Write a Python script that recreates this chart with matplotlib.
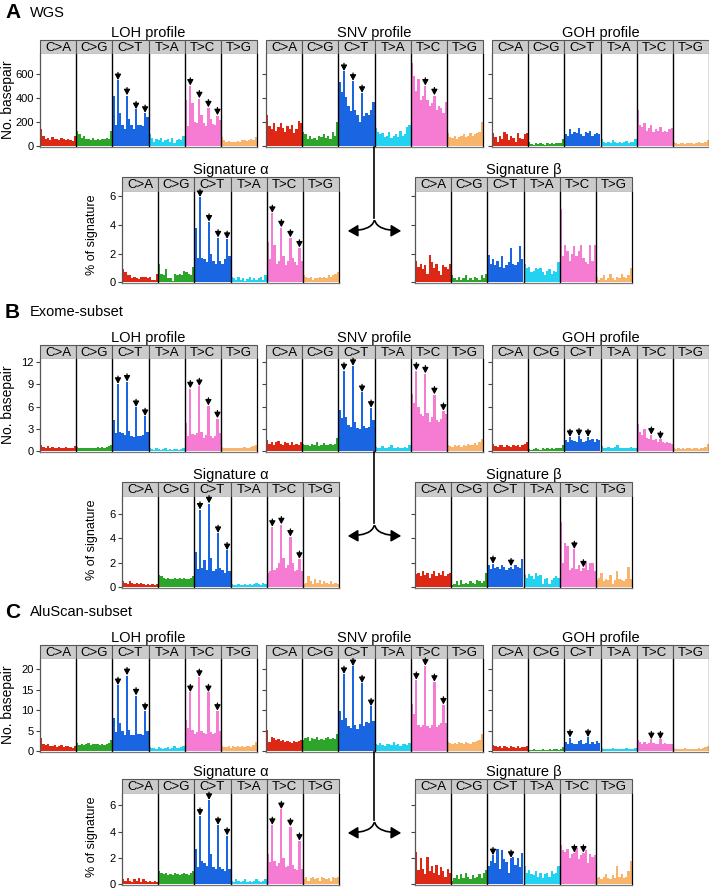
import numpy as np
import matplotlib.pyplot as plt
from matplotlib.patches import Rectangle, FancyArrowPatch
from matplotlib.lines import Line2D

plt.rcParams['font.family'] = ['Liberation Sans', 'DejaVu Sans']

types = ['C>A', 'C>G', 'C>T', 'T>A', 'T>C', 'T>G']
type_colors = ['#DC2814', '#2CA52A', '#1A66E2', '#22D2F0', '#F57BD3', '#F9B46C']

# ---- A: WGS ----
wgs_loh = [140, 90, 60, 70, 55, 75, 60, 60, 55, 70, 65, 50, 60, 55, 45, 85,
           130, 100, 70, 90, 60, 60, 50, 70, 55, 60, 55, 60, 60, 70, 65, 125,
           415, 175, 545, 280, 180, 140, 420, 230, 175, 140, 305, 175, 180, 170, 275, 240,
           100, 70, 40, 60, 50, 70, 40, 50, 60, 40, 70, 30, 50, 60, 50, 85,
           385, 170, 500, 360, 200, 190, 395, 260, 190, 170, 320, 230, 185, 180, 255, 215,
           75, 50, 40, 45, 35, 40, 40, 45, 40, 50, 55, 45, 50, 60, 55, 80]
wgs_snv = [260, 170, 140, 190, 130, 160, 190, 150, 120, 170, 140, 180, 110, 140, 210, 190,
           120, 100, 60, 90, 60, 70, 50, 90, 80, 100, 70, 90, 60, 120, 90, 200,
           530, 450, 620, 410, 330, 290, 540, 300, 260, 200, 440, 250, 280, 260, 300, 370,
           150, 120, 100, 110, 80, 90, 120, 70, 90, 100, 80, 130, 90, 100, 160, 180,
           690, 580, 460, 560, 380, 420, 500, 380, 330, 360, 420, 300, 330, 320, 280, 370,
           110, 80, 70, 90, 60, 80, 90, 100, 80, 90, 110, 90, 100, 110, 120, 200]
wgs_goh = [110, 80, 40, 90, 60, 120, 100, 50, 90, 70, 40, 110, 70, 60, 100, 110,
           35, 20, 15, 25, 20, 30, 20, 15, 25, 20, 25, 20, 30, 25, 30, 60,
           100, 90, 140, 100, 120, 110, 150, 100, 90, 120, 110, 130, 90, 100, 110, 100,
           60, 40, 30, 40, 30, 50, 35, 25, 40, 30, 35, 45, 30, 40, 35, 60,
           300, 180, 160, 190, 130, 150, 180, 120, 140, 130, 160, 120, 130, 120, 140, 150,
           40, 30, 20, 30, 25, 20, 30, 25, 30, 20, 30, 35, 25, 30, 35, 50]
wgs_sig_a = [0.9, 0.7, 0.5, 0.5, 0.3, 0.4, 0.3, 0.25, 0.4, 0.35, 0.4, 0.3, 0.35, 0.2, 0.15, 0.6,
             1.25, 0.6, 0.5, 0.9, 0.3, 0.3, 0.1, 0.6, 0.5, 0.6, 0.5, 0.8, 0.7, 0.6, 0.5, 1.05,
             3.8, 1.7, 5.9, 1.7, 1.6, 1.4, 4.2, 2.0, 1.5, 1.3, 3.1, 1.5, 1.3, 1.6, 3.0, 1.8,
             0.4, 0.3, 0.2, 0.35, 0.2, 0.3, 0.1, 0.25, 0.4, 0.2, 0.3, 0.15, 0.3, 0.4, 0.2, 0.5,
             2.8, 1.6, 4.8, 2.6, 1.3, 1.5, 3.8, 1.8, 1.2, 1.5, 3.1, 1.7, 1.4, 1.2, 2.4, 1.5,
             0.5, 0.4, 0.3, 0.4, 0.2, 0.3, 0.3, 0.4, 0.3, 0.4, 0.3, 0.5, 0.4, 0.5, 0.6, 0.7]
wgs_sig_b = [1.5, 1.1, 1.3, 0.9, 1.2, 0.6, 1.9, 1.4, 1.0, 1.3, 0.8, 0.5, 1.2, 1.1, 0.9, 1.3,
             0.5, 0.3, 0.2, 0.4, 0.2, 0.3, 0.5, 0.2, 0.3, 0.2, 0.4, 0.3, 0.2, 0.5, 0.3, 0.6,
             1.9, 1.3, 1.6, 1.2, 1.5, 1.1, 1.8, 1.0, 1.2, 1.4, 2.4, 1.3, 1.2, 1.4, 2.5, 1.6,
             1.3, 1.0, 1.1, 0.7, 0.8, 1.0, 0.9, 1.0, 0.7, 0.5, 0.8, 0.9, 0.6, 0.8, 0.7, 1.4,
             5.1, 1.8, 2.6, 2.2, 1.5, 2.0, 2.5, 1.8, 2.2, 2.6, 1.7, 1.4, 1.3, 2.6, 1.5, 2.6,
             0.4, 0.2, 0.3, 0.5, 0.2, 0.3, 0.6, 0.3, 0.2, 0.4, 0.3, 0.6, 0.4, 0.3, 0.5, 1.0]

# ---- B: Exome-subset ----
exome_loh = [0.8, 0.6, 0.5, 0.7, 0.4, 0.6, 0.5, 0.4, 0.6, 0.5, 0.4, 0.6, 0.5, 0.4, 0.5, 0.7,
             0.6, 0.5, 0.4, 0.5, 0.4, 0.5, 0.4, 0.5, 0.5, 0.6, 0.5, 0.6, 0.5, 0.6, 0.7, 0.9,
             4.2, 2.4, 9.0, 2.6, 2.4, 2.2, 9.3, 2.8, 2.0, 1.9, 5.9, 2.1, 2.0, 2.2, 4.7, 2.6,
             0.5, 0.3, 0.2, 0.4, 0.3, 0.2, 0.3, 0.4, 0.2, 0.3, 0.2, 0.3, 0.3, 0.2, 0.3, 0.5,
             3.8, 2.0, 8.4, 2.3, 2.2, 2.5, 8.7, 2.6, 1.8, 2.2, 6.1, 2.0, 1.8, 2.0, 4.4, 2.4,
             0.6, 0.5, 0.4, 0.5, 0.4, 0.5, 0.4, 0.5, 0.4, 0.5, 0.6, 0.5, 0.5, 0.6, 0.7, 0.9]
exome_snv = [1.5, 1.0, 1.3, 0.9, 1.2, 1.4, 1.0, 0.8, 1.2, 1.1, 0.9, 1.3, 0.8, 1.0, 0.9, 1.2,
             1.0, 0.8, 0.9, 0.7, 1.0, 0.8, 1.2, 0.7, 0.9, 1.1, 0.8, 0.9, 1.0, 0.8, 1.0, 1.8,
             5.6, 4.5, 10.8, 4.6, 3.5, 3.3, 11.4, 4.0, 3.2, 3.0, 7.9, 3.4, 3.2, 3.3, 5.8, 4.2,
             0.6, 0.5, 0.4, 0.7, 0.5, 0.4, 0.6, 0.8, 0.5, 0.4, 0.6, 0.5, 0.4, 0.6, 0.5, 0.9,
             7.7, 6.5, 10.8, 6.0, 5.0, 4.8, 10.4, 5.2, 4.0, 4.6, 7.6, 4.2, 3.9, 4.4, 5.4, 5.0,
             0.9, 0.7, 0.6, 0.8, 0.7, 0.9, 0.6, 0.8, 0.7, 1.0, 0.8, 0.9, 1.1, 0.8, 1.2, 1.6]
exome_goh = [1.0, 0.7, 0.6, 0.9, 0.8, 0.6, 0.9, 0.7, 0.6, 0.8, 0.7, 0.9, 0.6, 0.8, 1.0, 1.3,
             0.3, 0.2, 0.3, 0.4, 0.3, 0.2, 0.4, 0.3, 0.5, 0.3, 0.4, 0.3, 0.4, 0.5, 0.4, 0.8,
             1.5, 1.3, 1.9, 1.5, 1.4, 1.2, 2.0, 1.6, 1.3, 1.4, 1.9, 1.5, 1.6, 1.2, 1.7, 1.5,
             0.7, 0.5, 0.4, 0.6, 0.5, 0.4, 0.6, 0.8, 0.5, 0.4, 0.5, 0.4, 0.5, 0.6, 0.4, 0.5,
             3.7, 2.6, 2.2, 3.0, 1.8, 1.6, 2.2, 1.5, 1.6, 1.3, 1.6, 1.2, 1.1, 1.2, 1.1, 1.0,
             0.4, 0.3, 0.5, 0.3, 0.4, 0.3, 0.5, 0.4, 0.3, 0.5, 0.4, 0.3, 0.5, 0.4, 0.6, 1.0]
exome_sig_a = [0.5, 0.4, 0.3, 0.5, 0.4, 0.3, 0.4, 0.3, 0.4, 0.3, 0.2, 0.3, 0.2, 0.3, 0.2, 0.3,
               1.0, 0.9, 0.8, 0.7, 0.8, 0.7, 0.7, 0.8, 0.7, 0.8, 0.7, 0.8, 0.7, 0.7, 0.8, 0.9,
               2.9, 1.5, 6.3, 1.6, 2.2, 1.4, 6.8, 2.4, 1.3, 1.5, 4.4, 1.6, 1.4, 1.2, 3.0, 1.3,
               0.3, 0.2, 0.2, 0.3, 0.2, 0.2, 0.3, 0.2, 0.3, 0.2, 0.3, 0.4, 0.3, 0.2, 0.4, 0.3,
               1.2, 1.3, 4.9, 1.4, 1.6, 2.0, 5.1, 2.4, 1.6, 1.8, 4.1, 2.0, 1.3, 1.4, 2.3, 1.3,
               0.3, 0.4, 0.9, 0.5, 0.3, 0.7, 0.4, 0.6, 0.3, 0.5, 0.4, 0.3, 0.5, 0.3, 0.4, 0.3]
exome_sig_b = [1.1, 1.2, 0.9, 1.3, 1.0, 1.2, 0.8, 1.1, 1.3, 0.9, 1.2, 1.0, 1.3, 0.9, 1.1, 1.2,
               0.2, 0.3, 0.5, 0.2, 0.6, 0.3, 0.4, 0.3, 0.5, 0.4, 0.3, 0.6, 0.5, 0.4, 0.5, 1.2,
               1.8, 1.5, 1.9, 1.6, 1.7, 1.5, 1.8, 1.7, 1.4, 1.6, 1.7, 1.5, 1.8, 1.7, 1.6, 2.3,
               1.0, 0.8, 1.1, 0.9, 0.7, 1.2, 0.9, 1.0, 0.3, 0.7, 0.8, 0.3, 0.6, 0.8, 0.9, 0.8,
               5.3, 2.0, 3.6, 3.4, 1.4, 1.6, 3.1, 1.5, 1.8, 1.3, 1.6, 2.1, 1.4, 2.0, 2.0, 1.3,
               0.6, 0.8, 1.2, 0.5, 0.7, 0.6, 1.0, 0.3, 0.6, 1.3, 0.7, 0.6, 0.5, 0.7, 1.7, 0.7]

# ---- C: AluScan-subset ----
alu_loh = [3.2, 1.8, 1.5, 1.9, 1.4, 1.2, 1.6, 1.1, 1.3, 1.5, 1.0, 1.2, 1.4, 1.1, 0.9, 1.3,
           2.0, 1.6, 1.8, 1.5, 1.7, 2.0, 1.6, 1.8, 1.9, 1.7, 1.5, 1.8, 1.6, 1.9, 2.1, 2.8,
           8.0, 4.6, 16.0, 6.8, 5.0, 4.0, 18.4, 5.3, 4.1, 4.0, 13.5, 4.2, 4.3, 4.1, 9.8, 5.0,
           1.0, 0.8, 0.9, 0.7, 1.1, 0.8, 0.6, 0.9, 1.0, 0.7, 0.8, 1.2, 0.9, 0.8, 1.0, 1.4,
           7.6, 5.8, 14.3, 5.2, 4.3, 4.6, 18.0, 5.0, 4.5, 4.2, 14.3, 4.8, 4.3, 4.5, 9.8, 4.9,
           1.2, 1.0, 1.1, 1.3, 0.9, 1.2, 1.0, 1.4, 1.1, 1.3, 1.0, 1.2, 1.3, 1.1, 1.5, 2.2]
alu_snv = [5.2, 2.4, 3.6, 3.3, 2.8, 3.0, 2.6, 2.8, 2.2, 2.6, 2.4, 2.1, 2.5, 2.2, 2.6, 2.8,
           2.8, 3.2, 3.5, 2.6, 3.3, 3.0, 3.4, 2.8, 3.1, 2.7, 3.2, 3.5, 2.9, 3.3, 3.1, 4.2,
           9.8, 7.6, 18.7, 8.0, 6.2, 5.6, 20.6, 6.4, 5.5, 6.6, 16.5, 6.2, 7.2, 6.8, 10.9, 7.3,
           1.8, 1.5, 2.0, 1.6, 1.4, 1.9, 1.7, 1.5, 2.2, 1.6, 1.8, 1.4, 1.7, 1.9, 1.6, 2.0,
           11.4, 9.0, 17.3, 6.5, 6.0, 6.4, 20.7, 6.1, 5.8, 6.4, 16.8, 5.9, 6.3, 7.0, 11.3, 6.8,
           2.2, 2.0, 1.8, 2.1, 1.9, 2.3, 2.0, 1.8, 2.2, 2.1, 1.9, 2.4, 2.2, 2.5, 2.8, 4.2]
alu_goh = [1.6, 1.2, 1.0, 1.3, 0.9, 1.4, 1.1, 0.8, 1.2, 1.0, 0.9, 1.3, 0.8, 1.1, 1.0, 1.4,
           0.4, 0.3, 0.5, 0.3, 0.4, 0.3, 0.5, 0.4, 0.3, 0.5, 0.4, 0.6, 0.5, 0.4, 0.6, 1.0,
           2.4, 1.8, 3.3, 2.1, 1.9, 1.7, 2.6, 2.8, 1.8, 2.0, 3.4, 1.9, 2.2, 1.8, 2.5, 2.1,
           0.9, 0.6, 0.5, 0.7, 0.6, 0.8, 0.5, 0.6, 0.7, 0.5, 0.6, 0.8, 0.5, 0.6, 0.7, 0.9,
           2.8, 2.2, 1.9, 2.4, 1.8, 2.0, 2.9, 2.1, 1.7, 1.9, 2.9, 1.8, 2.0, 1.7, 1.9, 1.8,
           0.8, 0.6, 0.7, 0.5, 0.6, 0.8, 0.7, 0.6, 0.5, 0.7, 0.6, 0.8, 0.7, 0.9, 1.0, 1.3]
alu_sig_a = [0.4, 0.3, 0.5, 0.3, 0.2, 0.4, 0.3, 0.5, 0.2, 0.4, 0.3, 0.2, 0.3, 0.2, 0.3, 0.2,
             1.0, 0.9, 0.8, 0.9, 0.7, 0.8, 0.7, 0.9, 0.8, 0.7, 0.8, 0.9, 0.8, 0.7, 0.9, 1.0,
             2.7, 1.3, 5.2, 1.8, 1.6, 1.4, 6.4, 2.3, 1.3, 1.2, 4.5, 1.3, 1.2, 1.0, 3.7, 1.2,
             0.3, 0.2, 0.4, 0.3, 0.2, 0.3, 0.4, 0.2, 0.3, 0.2, 0.3, 0.4, 0.3, 0.2, 0.3, 0.4,
             2.3, 1.7, 4.5, 1.8, 1.4, 1.6, 5.7, 2.0, 1.3, 1.4, 4.4, 1.5, 1.2, 1.1, 3.3, 1.2,
             0.4, 0.6, 0.3, 0.5, 0.6, 0.4, 0.5, 0.3, 0.6, 0.5, 0.4, 0.5, 0.3, 0.6, 0.5, 0.6]
alu_sig_b = [2.5, 1.1, 2.0, 1.2, 0.8, 2.1, 1.0, 1.4, 0.9, 1.5, 0.7, 1.3, 1.0, 0.6, 1.2, 0.9,
             0.3, 0.5, 0.7, 0.4, 0.8, 0.5, 0.9, 0.6, 0.4, 0.7, 0.5, 0.6, 0.8, 0.5, 0.9, 1.1,
             1.4, 1.8, 2.2, 1.6, 2.7, 1.2, 2.6, 1.9, 1.7, 0.9, 2.0, 2.1, 1.5, 2.0, 1.3, 2.4,
             1.4, 0.9, 1.1, 0.8, 0.7, 1.0, 0.6, 0.9, 0.5, 0.8, 0.9, 0.6, 1.0, 0.8, 0.9, 1.4,
             3.0, 2.6, 2.5, 2.7, 2.0, 2.3, 2.4, 2.8, 1.9, 2.2, 2.4, 2.6, 1.6, 2.3, 2.1, 2.2,
             0.5, 0.6, 0.4, 0.6, 0.8, 0.5, 0.4, 0.7, 0.5, 1.4, 0.6, 0.8, 0.5, 0.6, 1.0, 1.8]

# bars flagged with a small arrow (index 0..95)
cpg_marks = [34, 38, 42, 46, 66, 70, 74, 78]
wgs_snv_marks = [34, 38, 42, 70, 74]
exome_goh_marks = [34, 38, 42, 70, 74]
exome_sig_b_marks = [34, 42, 70, 74]
alu_goh_marks = [34, 42, 70, 74]
alu_sig_b_marks = [34, 42, 70, 74]

W, H = 709, 891
fig = plt.figure(figsize=(W / 100, H / 100), dpi=100)


def box(left, top, width, height):
    return [left / W, 1 - (top + height) / H, width / W, height / H]


PW = 217


def panel(left, top, hh, ph, vals, ymax, ticks, title, marks, labels):
    hax = fig.add_axes(box(left, top, PW, hh))
    hax.set_xlim(0, 6)
    hax.set_ylim(0, 1)
    hax.axis('off')
    for k, t in enumerate(types):
        hax.add_patch(Rectangle((k, 0), 1, 1, facecolor='#CBCBCB', edgecolor='#555555',
                                lw=0.8, clip_on=False))
        hax.text(k + 0.5, 0.45, t, ha='center', va='center', fontsize=9.5)
    hax.text(3, 1.0, title, ha='center', va='bottom', fontsize=10.5,
             transform=hax.transData)

    ax = fig.add_axes(box(left, top + hh, PW, ph))
    cols = [type_colors[i // 16] for i in range(96)]
    ax.bar(np.arange(96), vals, width=1.0, color=cols, linewidth=0)
    ax.set_xlim(-0.5, 95.5)
    ax.set_ylim(-0.006 * ymax, ymax)
    for k in range(1, 6):
        ax.axvline(16 * k - 0.5, color='black', lw=1.0)
    ax.set_xticks([])
    ax.set_yticks(ticks)
    if not labels:
        ax.set_yticklabels([])
    ax.tick_params(axis='y', length=3, width=0.8, color='#444444', pad=1.5, labelsize=8)
    ax.spines['top'].set_visible(False)
    ax.spines['left'].set_color('#555555')
    ax.spines['bottom'].set_color('#777777')
    ax.spines['right'].set_color('black')
    for s in ['left', 'bottom', 'right']:
        ax.spines[s].set_linewidth(0.9)
    for i in marks:
        ax.annotate('', xy=(i, vals[i] + 0.004 * ymax), xytext=(0, 5.5),
                    textcoords='offset points',
                    arrowprops=dict(arrowstyle='-|>,head_length=0.55,head_width=0.3',
                                    mutation_scale=6, lw=0.9, color='black',
                                    shrinkA=0, shrinkB=0))
    return ax


sections = [
    ('A', 'WGS', 13, 40, 177,
     [wgs_loh, wgs_snv, wgs_goh], [cpg_marks, wgs_snv_marks, []], 763, [0, 200, 400, 600],
     [wgs_sig_a, wgs_sig_b], [cpg_marks, []], 6.27),
    ('B', 'Exome-subset', 312, 345, 482,
     [exome_loh, exome_snv, exome_goh], [cpg_marks, cpg_marks, exome_goh_marks], 12.36,
     [0, 3, 6, 9, 12],
     [exome_sig_a, exome_sig_b], [cpg_marks, exome_sig_b_marks], 7.34),
    ('C', 'AluScan-subset', 612, 645, 779,
     [alu_loh, alu_snv, alu_goh], [cpg_marks, cpg_marks, alu_goh_marks], 22.4,
     [0, 5, 10, 15, 20],
     [alu_sig_a, alu_sig_b], [cpg_marks, alu_sig_b_marks], 6.87),
]

top_lefts = [40, 266, 492]
top_titles = ['LOH profile', 'SNV profile', 'GOH profile']
sig_lefts = [122, 415]
sig_titles = ['Signature \u03b1', 'Signature \u03b2']

for letter, name, ly, htop, stop, profs, pmarks, pmax, pticks, sigs, smarks, smax in sections:
    fig.text(5 / W, 1 - ly / H, letter, fontsize=15, fontweight='bold', va='center', ha='left')
    fig.text(30 / W, 1 - ly / H, name, fontsize=10.5, va='center', ha='left')
    for j in range(3):
        panel(top_lefts[j], htop, 14, 93, profs[j], pmax, pticks, top_titles[j],
              pmarks[j], j == 0)
    fig.text(8 / W, 1 - (htop + 14 + 46) / H, 'No. basepair', rotation=90,
             ha='center', va='center', fontsize=10)
    for j in range(2):
        panel(sig_lefts[j], stop, 15, 91, sigs[j], smax, [0, 2, 4, 6], sig_titles[j],
              smarks[j], j == 0)
    fig.text(92 / W, 1 - (stop + 15 + 43) / H, '% of signature', rotation=90,
             ha='center', va='center', fontsize=9)

    # branching arrow from SNV profile to the two signatures
    cx = 374.5
    join = stop + 41
    arm = stop + 54
    fig.add_artist(Line2D([cx / W, cx / W], [1 - (htop + 107) / H, 1 - join / H],
                          color='black', lw=1.2, transform=fig.transFigure))
    for tip in [345, 404]:
        fig.add_artist(FancyArrowPatch((cx / W, 1 - join / H), (tip / W, 1 - arm / H),
                                       connectionstyle='angle3,angleA=90,angleB=0',
                                       arrowstyle='-|>,head_length=0.6,head_width=0.35',
                                       mutation_scale=10, lw=1.2, color='black',
                                       transform=fig.transFigure))

fig.savefig('out.png', dpi=100)
